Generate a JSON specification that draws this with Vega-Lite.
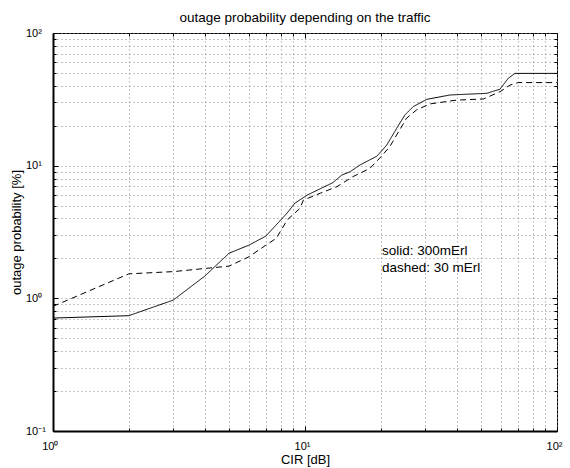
{
  "$schema": "https://vega.github.io/schema/vega-lite/v6.json",
  "width": 504,
  "height": 398,
  "autosize": "none",
  "padding": {"left": 53, "top": 33, "right": 13, "bottom": 37},
  "background": "white",
  "config": {
    "view": {"stroke": "black", "strokeWidth": 1},
    "font": "Liberation Sans",
    "axis": {
      "labelFont": "Liberation Sans",
      "titleFont": "Liberation Sans",
      "labelFontSize": 11,
      "titleFontSize": 13,
      "titleFontWeight": "normal",
      "labelColor": "black",
      "titleColor": "black",
      "domainColor": "black",
      "tickColor": "black",
      "gridColor": "#8a8a8a",
      "gridDash": [1, 3],
      "gridWidth": 1
    }
  },
  "title": {
    "text": "outage probability depending on the traffic",
    "font": "Liberation Sans",
    "fontSize": 13.5,
    "fontWeight": "normal",
    "color": "black",
    "offset": 3
  },
  "datasets": {
    "curves": [
      {"series": "solid", "x": 1, "y": 0.71},
      {"series": "solid", "x": 2, "y": 0.74},
      {"series": "solid", "x": 3, "y": 0.97},
      {"series": "solid", "x": 4, "y": 1.47},
      {"series": "solid", "x": 5, "y": 2.19},
      {"series": "solid", "x": 6, "y": 2.52},
      {"series": "solid", "x": 7, "y": 2.95},
      {"series": "solid", "x": 8.5, "y": 4.4},
      {"series": "solid", "x": 9.1, "y": 5.2},
      {"series": "solid", "x": 10.2, "y": 6.0},
      {"series": "solid", "x": 12.9, "y": 7.45},
      {"series": "solid", "x": 14, "y": 8.5},
      {"series": "solid", "x": 15.1, "y": 9.0},
      {"series": "solid", "x": 16.5, "y": 10.1},
      {"series": "solid", "x": 19.3, "y": 11.8},
      {"series": "solid", "x": 21.1, "y": 14.3},
      {"series": "solid", "x": 23.1, "y": 19.1},
      {"series": "solid", "x": 24.9, "y": 24.1},
      {"series": "solid", "x": 26.9, "y": 27.9},
      {"series": "solid", "x": 30.4, "y": 31.6},
      {"series": "solid", "x": 37.6, "y": 34.1},
      {"series": "solid", "x": 52.6, "y": 35.1},
      {"series": "solid", "x": 59.4, "y": 37.7},
      {"series": "solid", "x": 64.1, "y": 45.6},
      {"series": "solid", "x": 68.1, "y": 49.6},
      {"series": "solid", "x": 100, "y": 49.6},
      {"series": "dashed", "x": 1, "y": 0.87},
      {"series": "dashed", "x": 2, "y": 1.53},
      {"series": "dashed", "x": 3, "y": 1.59},
      {"series": "dashed", "x": 5, "y": 1.75},
      {"series": "dashed", "x": 6, "y": 2.06},
      {"series": "dashed", "x": 7, "y": 2.52},
      {"series": "dashed", "x": 7.7, "y": 2.84},
      {"series": "dashed", "x": 8.5, "y": 3.9},
      {"series": "dashed", "x": 9.55, "y": 4.77},
      {"series": "dashed", "x": 9.85, "y": 5.5},
      {"series": "dashed", "x": 11.5, "y": 6.2},
      {"series": "dashed", "x": 13.4, "y": 6.95},
      {"series": "dashed", "x": 15.5, "y": 8.27},
      {"series": "dashed", "x": 18.1, "y": 9.55},
      {"series": "dashed", "x": 19.8, "y": 11.4},
      {"series": "dashed", "x": 21.7, "y": 13.9},
      {"series": "dashed", "x": 23.5, "y": 18.0},
      {"series": "dashed", "x": 25.3, "y": 22.8},
      {"series": "dashed", "x": 27.7, "y": 26.3},
      {"series": "dashed", "x": 31.3, "y": 29.2},
      {"series": "dashed", "x": 40, "y": 31.2},
      {"series": "dashed", "x": 51, "y": 31.8},
      {"series": "dashed", "x": 59.4, "y": 36.1},
      {"series": "dashed", "x": 65.1, "y": 40.5},
      {"series": "dashed", "x": 70.2, "y": 42.3},
      {"series": "dashed", "x": 100, "y": 42.3}
    ],
    "notes": [
      {"x": 20.2, "y": 2.29, "label": "solid: 300mErl"},
      {"x": 20.2, "y": 1.69, "label": "dashed: 30 mErl"}
    ]
  },
  "layer": [
    {
      "data": {"name": "curves"},
      "mark": {"type": "line", "color": "black", "strokeWidth": 1, "clip": true},
      "encoding": {
        "x": {
          "field": "x", "type": "quantitative",
          "scale": {"type": "log", "domain": [1, 100], "nice": false},
          "axis": {
            "title": "CIR [dB]",
            "titlePadding": 0,
            "grid": true,
            "domainWidth": 2,
            "values": [1,2,3,4,5,6,7,8,9,10,20,30,40,50,60,70,80,90,100],
            "labelExpr": "datum.value == 1 ? '10⁰' : datum.value == 10 ? '10¹' : datum.value == 100 ? '10²' : ''",
            "tickSize": {"condition": {"test": "indexof([1,10,100], datum.value) >= 0", "value": -5}, "value": -3},
            "labelPadding": 14,
            "labelAlign": "right",
            "labelOffset": 5,
            "labelFlush": false,
            "labelOverlap": false
          }
        },
        "y": {
          "field": "y", "type": "quantitative",
          "scale": {"type": "log", "domain": [0.1, 100], "nice": false},
          "axis": {
            "title": "outage probability [%]",
            "titlePadding": 0,
            "grid": true,
            "domainWidth": 2,
            "values": [0.1,0.2,0.3,0.4,0.5,0.6,0.7,0.8,0.9,1,2,3,4,5,6,7,8,9,10,20,30,40,50,60,70,80,90,100],
            "labelExpr": "datum.value == 0.1 ? '10⁻¹' : datum.value == 1 ? '10⁰' : datum.value == 10 ? '10¹' : datum.value == 100 ? '10²' : ''",
            "tickSize": {"condition": {"test": "indexof([0.1,1,10,100], datum.value) >= 0", "value": -5}, "value": -3},
            "labelPadding": 32.5,
            "labelAlign": "left",
            "labelOverlap": false,
            "labelFlush": false
          }
        },
        "strokeDash": {
          "field": "series", "type": "nominal",
          "scale": {"domain": ["solid", "dashed"], "range": [[1, 0], [6, 4]]},
          "legend": null
        }
      }
    },
    {
      "data": {"name": "notes"},
      "mark": {"type": "text", "align": "left", "baseline": "middle", "fontSize": 13.5, "font": "Liberation Sans", "color": "black"},
      "encoding": {
        "x": {
          "field": "x", "type": "quantitative",
          "axis": {
            "orient": "top", "title": null, "grid": false, "labels": false, "domain": false,
            "values": [1,2,3,4,5,6,7,8,9,10,20,30,40,50,60,70,80,90,100],
            "tickSize": {"condition": {"test": "indexof([1,10,100], datum.value) >= 0", "value": -5}, "value": -3}
          }
        },
        "y": {
          "field": "y", "type": "quantitative",
          "axis": {
            "orient": "right", "title": null, "grid": false, "labels": false, "domain": false,
            "values": [0.1,0.2,0.3,0.4,0.5,0.6,0.7,0.8,0.9,1,2,3,4,5,6,7,8,9,10,20,30,40,50,60,70,80,90,100],
            "tickSize": {"condition": {"test": "indexof([0.1,1,10,100], datum.value) >= 0", "value": -5}, "value": -3}
          }
        },
        "text": {"field": "label"}
      }
    }
  ],
  "resolve": {"axis": {"x": "independent", "y": "independent"}}
}
